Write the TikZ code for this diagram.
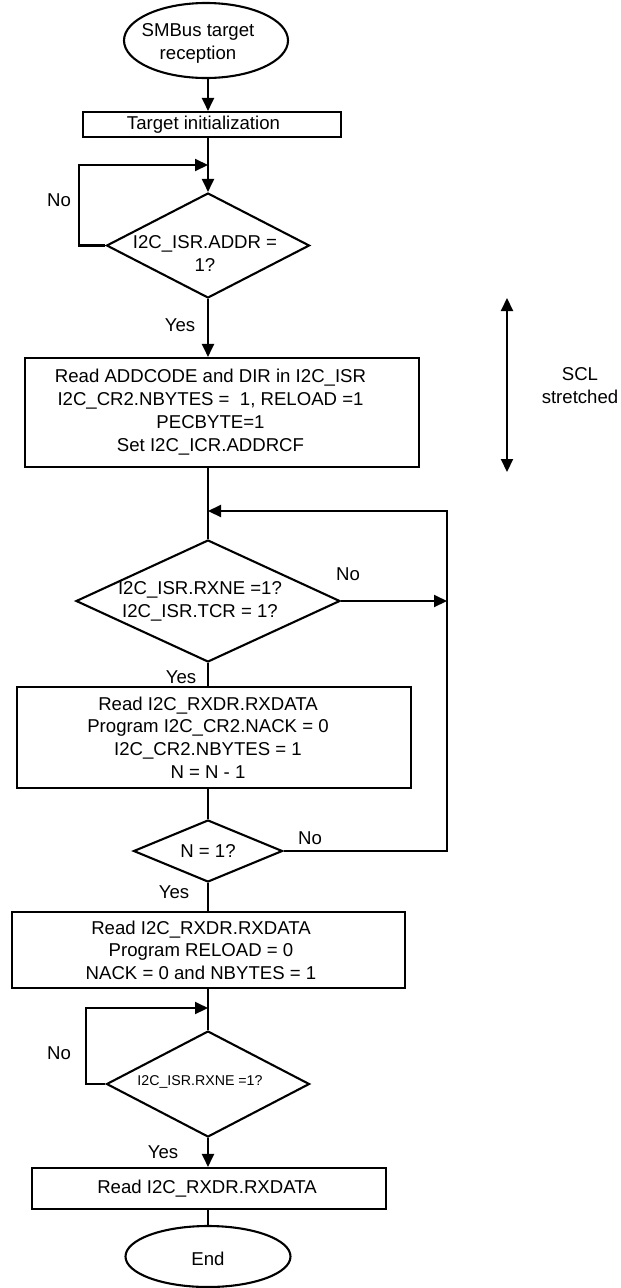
\documentclass[tikz,border=0pt]{standalone}
\usepackage{fontspec}
\setmainfont{Liberation Sans}
\usetikzlibrary{shapes.geometric,arrows.meta,calc}
\begin{document}
\begin{tikzpicture}[x=1pt,y=-1pt,
  every node/.style={font=\fontsize{18.6}{23}\selectfont},
  ln/.style={line width=2.1pt},
  arr/.style={ln,-{Triangle[length=13pt,width=12pt]}},
  dbl/.style={ln,{Triangle[length=13pt,width=12pt]}-{Triangle[length=13pt,width=12pt]}},
  bx/.style={draw,line width=2.1pt,rectangle,inner sep=0pt},
  dec/.style={draw,line width=2.1pt,diamond,inner sep=0pt},
  term/.style={draw,line width=2.1pt,ellipse,inner sep=0pt},
  tx/.style={align=center,inner sep=0pt},
  small/.style={font=\fontsize{14.2}{17}\selectfont}
]
\fill[white] (0,0) rectangle (621,1288);
\useasboundingbox (0,0) rectangle (621,1288);

% nodes
\node[term,minimum width=164pt,minimum height=75pt,
  label={[tx,xshift=-8pt,yshift=-3pt]center:{SMBus target\\reception}}] (start) at (206,40.5) {};
\node[bx,minimum width=258pt,minimum height=25pt,
  label={[tx,xshift=-8.5pt]center:{Target initialization}}] (b1) at (212,124.5) {};
\node[dec,minimum width=203pt,minimum height=105pt,
  label={[tx,xshift=-3pt,yshift=-8pt]center:{I2C\_ISR.ADDR =\\1?}}] (d1) at (208,245.5) {};
\node[bx,minimum width=394pt,minimum height=109pt,
  label={[tx,xshift=-11.5pt]center:{Read ADDCODE and DIR in I2C\_ISR\\I2C\_CR2.NBYTES =\ \ 1, RELOAD =1\\PECBYTE=1\\Set I2C\_ICR.ADDRCF}}] (b2) at (222,412.5) {};
\node[dec,minimum width=264pt,minimum height=122pt,
  label={[tx,xshift=-8pt]center:{I2C\_ISR.RXNE =1?\\I2C\_ISR.TCR = 1?}}] (d2) at (208,601) {};
\node[bx,minimum width=394pt,minimum height=101pt,
  label={[tx,xshift=-6pt,font=\fontsize{18.6}{22.7}\selectfont]center:{Read I2C\_RXDR.RXDATA\\Program I2C\_CR2.NACK = 0\\I2C\_CR2.NBYTES = 1\\N = N - 1}}] (b3) at (214,737.5) {};
\node[dec,minimum width=149pt,minimum height=62pt,
  label={[tx]center:{N = 1?}}] (d3) at (208,851) {};
\node[bx,minimum width=393pt,minimum height=76pt,
  label={[tx,xshift=-7.5pt,font=\fontsize{18.6}{22.5}\selectfont]center:{Read I2C\_RXDR.RXDATA\\Program RELOAD = 0\\NACK = 0 and NBYTES = 1}}] (b4) at (208.5,950) {};
\node[dec,minimum width=203pt,minimum height=106pt,
  label={[tx,small,xshift=-8pt,yshift=2pt]center:{I2C\_ISR.RXNE =1?}}] (d5) at (208,1084) {};
\node[bx,minimum width=354pt,minimum height=41pt,
  label={[tx,xshift=-2pt]center:{Read I2C\_RXDR.RXDATA}}] (b5) at (209,1188.5) {};
\node[term,minimum width=165pt,minimum height=61pt,
  label={[tx,yshift=-2.5pt]center:{End}}] (end) at (208,1256.5) {};

% side texts
\node[tx] (no1) at (59,200) {No};
\node[tx] (yes1) at (180,325) {Yes};
\node[tx] (no2) at (348,574) {No};
\node[tx] (yes2) at (181,677) {Yes};
\node[tx] (no3) at (310,838) {No};
\node[tx] (yes3) at (174,892) {Yes};
\node[tx] (no4) at (59,1053) {No};
\node[tx] (yes4) at (163,1152) {Yes};
\node[tx] (scl) at (580,386) {SCL\\stretched};

% helper coordinates
\coordinate (l1) at (79,165);
\coordinate (j1) at (208,165);
\coordinate (rt) at (447,511);
\coordinate (j2) at (208,511);
\coordinate (l2) at (86,1008);
\coordinate (j3) at (208,1008);
\coordinate (s1) at (507,298);
\coordinate (s2) at (507,472);

% connectors
\draw[arr] (start.south -| d1) -- (b1.north -| d1);
\draw[arr] (b1.south -| d1) -- (d1.north);
\draw[arr] (d1.west) -| (l1) -- (j1);
\draw[arr] (d1.south) -- (b2.north -| d1);
\draw[ln] (b2.south -| d2) -- (d2.north);
\draw[arr] (d2.east) -- (d2.east -| rt);
\draw[ln] (d2.south) -- (b3.north -| d2);
\draw[ln] (b3.south -| d3) -- (d3.north);
\draw[arr] (d3.east) -| (rt) -- (j2);
\draw[ln] (d3.south) -- (b4.north -| d3);
\draw[ln] (b4.south -| d5) -- (d5.north);
\draw[arr] (d5.west) -| (l2) -- (j3);
\draw[arr] (d5.south) -- (b5.north -| d5);
\draw[ln] (b5.south -| end) -- (end.north);
\draw[dbl] (s1) -- (s2);
\end{tikzpicture}
\end{document}
